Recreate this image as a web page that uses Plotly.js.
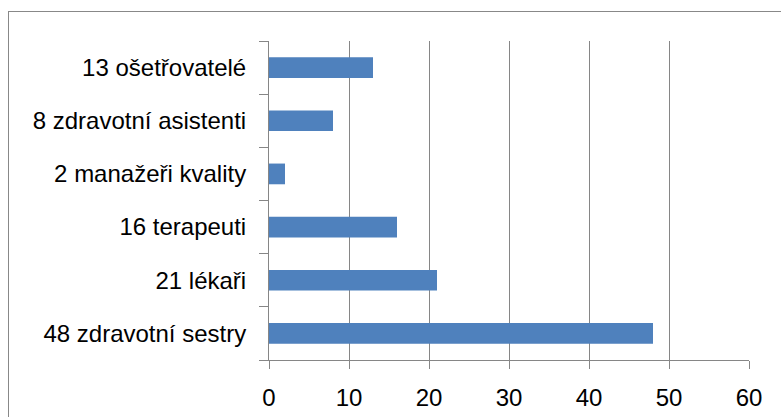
<!DOCTYPE html>
<html>
<head>
<meta charset="utf-8">
<script src="https://cdn.plot.ly/plotly-3.0.1.min.js"></script>
<style>
  html, body { margin: 0; padding: 0; background: #fff; }
  #wrap { position: relative; width: 781px; height: 417px; overflow: hidden; }
  #chart { width: 781px; height: 417px; }
  #frame { position: absolute; left: 8px; top: 11px; width: 800px; height: 420px;
           border-left: 1px solid #888; border-top: 1px solid #888; pointer-events: none; }
</style>
</head>
<body>
<div id="wrap">
  <div id="chart"></div>
  <div id="frame"></div>
</div>
<script>
// Categories listed bottom to top
const categories = ["48 zdravotní sestry", "21 lékaři", "16 terapeuti", "2 manažeři kvality", "8 zdravotní asistenti", "13 ošetřovatelé"];
const values = [48, 21, 16, 2, 8, 13];
const xTickValues = [0, 10, 20, 30, 40, 50, 60];

const font = { family: "Liberation Sans, Arial, sans-serif", size: 24, color: "#000" };

const trace = {
  type: "bar",
  orientation: "h",
  x: values,
  y: categories,
  marker: { color: "#4F81BD" },
  hoverinfo: "x+y"
};

const layout = {
  width: 781, height: 417,
  margin: { l: 269, r: 32, t: 41, b: 57, pad: 0 },
  paper_bgcolor: "#fff", plot_bgcolor: "#fff",
  showlegend: false,
  bargap: 0.61,
  font: font,
  xaxis: {
    range: [0, 60],
    tickvals: xTickValues,
    ticktext: xTickValues.map(String),
    showgrid: true, gridcolor: "#868686", gridwidth: 1,
    zeroline: false,
    showline: true, linecolor: "#868686", linewidth: 1,
    ticks: "outside", ticklen: 8, tickcolor: "#868686", tickwidth: 1,
    ticklabelstandoff: 8,
    tickfont: font,
    fixedrange: true
  },
  yaxis: {
    type: "category",
    categoryorder: "array", categoryarray: categories,
    showgrid: false, zeroline: false,
    showline: true, linecolor: "#868686", linewidth: 1,
    ticks: "outside", tickson: "boundaries", ticklen: 9, tickcolor: "#868686", tickwidth: 1,
    ticklabelstandoff: 17,
    tickfont: font,
    fixedrange: true
  }
};

Plotly.newPlot("chart", [trace], layout, { displayModeBar: false, staticPlot: true });
</script>
</body>
</html>
